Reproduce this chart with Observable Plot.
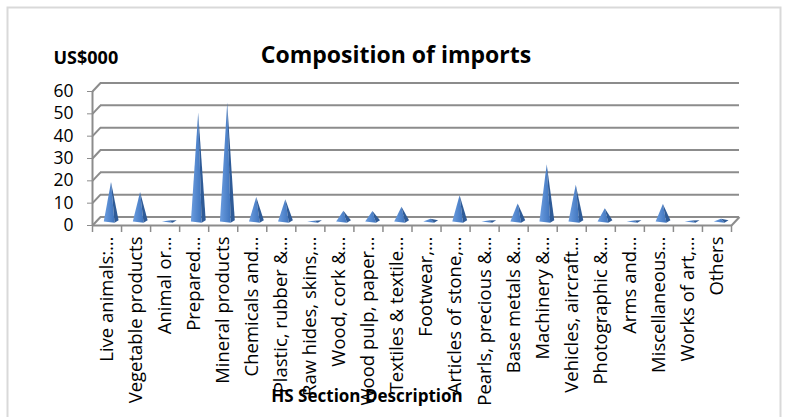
<!DOCTYPE html>
<html><head><meta charset="utf-8">
<script src="https://cdn.jsdelivr.net/npm/d3@7"></script>
<script src="https://cdn.jsdelivr.net/npm/@observablehq/plot@0.6"></script>
<style>
html,body{margin:0;padding:0;background:#fff;}
#chart svg{display:block;}
</style></head><body><div id="chart"></div>
<script>
const categories = ["Live animals:…","Vegetable products","Animal or…","Prepared…","Mineral products","Chemicals and…","Plastic, rubber &…","Raw hides, skins,…","Wood, cork &…","Wood pulp, paper…","Textiles & textile…","Footwear,…","Articles of stone,…","Pearls, precious &…","Base metals &…","Machinery &…","Vehicles, aircraft…","Photographic &…","Arms and…","Miscellaneous…","Works of art,…","Others"];
const values = [17.7,13.2,0.4,48.8,53.2,11.0,10.0,0.3,4.8,4.7,6.6,1.2,11.8,0.4,8.1,25.6,16.5,5.9,0.4,7.8,0.4,1.2];
const yTicks = [0,10,20,30,40,50,60];
const title = "Composition of imports";
const yTitle = "US$000";
const xTitle = "HS Section Description";

const W = 786, H = 417, mL = 92, mR = 55, mT = 91, mB = 192;
const n = categories.length;
const pxPerX = (W - mL - mR) / n;
const pxPerY = (H - mT - mB) / 60;
const depthX = 8, depthY = 8.5;           // pixels of 3-D depth
const dX = depthX / pxPerX, dY = depthY / pxPerY;

// pyramid faces built from the values
const faceRows = [];
values.forEach((v, i) => {
  const left = [[i - 0.25, 0], [i, v], [i + 0.12, -0.6]];
  const right = [[i + 0.12, -0.6], [i, v], [i + 0.26, 0.6]];
  left.forEach(([x, y]) => faceRows.push({id: "L" + i, face: "light", x, y}));
  right.forEach(([x, y]) => faceRows.push({id: "R" + i, face: "dark", x, y}));
});
const boundaries = d3.range(n + 1).map(i => i - 0.5);
const grey = "#8c8c8c";
const font = "Open Sans, sans-serif";

const chart = Plot.plot({
  width: W, height: H,
  marginLeft: mL, marginRight: mR, marginTop: mT, marginBottom: mB,
  style: {fontFamily: font, color: "#000", background: "#fff"},
  x: {domain: [-0.5, n - 0.5], axis: null},
  y: {domain: [0, 60], axis: null},
  marks: [
    Plot.frame({stroke: "#d9d9d9", strokeWidth: 2, insetLeft: -85, insetTop: -84, insetRight: -49, insetBottom: -200}),
    // back wall gridlines
    Plot.ruleY(yTicks, {dx: depthX, dy: -depthY, stroke: grey, strokeWidth: 2}),
    // side wall diagonals
    Plot.link(yTicks, {x1: -0.5, y1: d => d, x2: -0.5 + dX, y2: d => d + dY, stroke: grey, strokeWidth: 2}),
    Plot.link([0], {x1: n - 0.5, y1: 0, x2: n - 0.5 + dX, y2: dY, stroke: grey, strokeWidth: 2}),
    // front floor edge and axis
    Plot.ruleY([0], {stroke: grey, strokeWidth: 2}),
    Plot.ruleX([-0.5], {y1: 0, y2: 60, stroke: grey, strokeWidth: 2}),
    Plot.ruleX(boundaries, {y1: 0, y2: -7 / pxPerY, stroke: grey, strokeWidth: 1.5}),
    // pyramids
    Plot.line(faceRows.filter(d => d.face === "light"), {x: "x", y: "y", z: "id", fill: "url(#gradL)", stroke: "none", curve: "linear-closed", dx: 4, dy: -4}),
    Plot.line(faceRows.filter(d => d.face === "dark"), {x: "x", y: "y", z: "id", fill: "#2f5b97", stroke: "none", curve: "linear-closed", dx: 4, dy: -4}),
    Plot.axisY(yTicks, {tickSize: 5, tickPadding: 14, fontSize: 17.5, stroke: grey, label: null}),
    Plot.axisX(d3.range(n), {tickFormat: i => categories[i], tickRotate: -90, tickSize: 0, tickPadding: 11, fontSize: 18.5, label: null}),
    Plot.text([title], {frameAnchor: "top", dx: -16, dy: -45, fontSize: 23, fontWeight: "bold", text: d => d}),
    Plot.text([yTitle], {frameAnchor: "top-left", textAnchor: "start", dx: -39, dy: -40, fontSize: 18, fontWeight: "bold", text: d => d}),
    Plot.text([xTitle], {frameAnchor: "bottom", dx: -45, dy: 176, fontSize: 17, fontWeight: "bold", text: d => d})
  ]
});
const defs = d3.select(chart).insert("defs", ":first-child");
const g = defs.append("linearGradient").attr("id", "gradL").attr("x1", "0").attr("x2", "1").attr("y1", "0").attr("y2", "0");
g.append("stop").attr("offset", "0%").attr("stop-color", "#6b9de0");
g.append("stop").attr("offset", "100%").attr("stop-color", "#3f74bd");
document.getElementById("chart").appendChild(chart);
</script></body></html>
